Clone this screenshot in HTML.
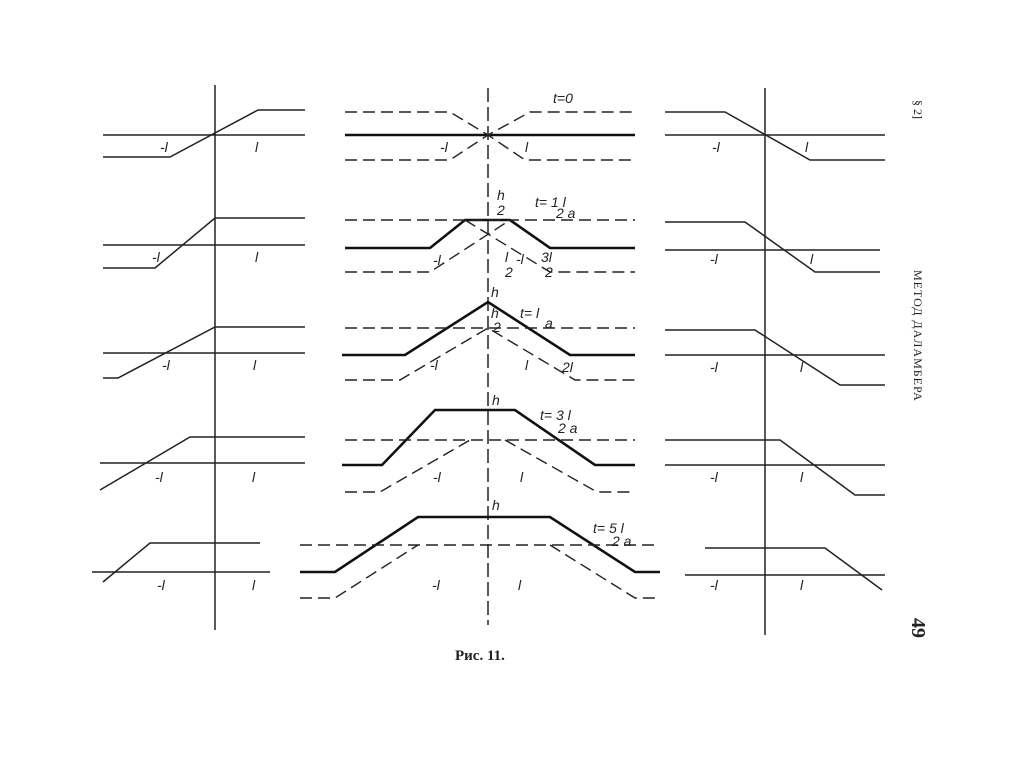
<!DOCTYPE html>
<html><head><meta charset="utf-8"><style>
html,body{margin:0;padding:0;background:#fff;}
svg{display:block}
text{font-family:"Liberation Serif",serif;fill:#222}
.i{font-style:italic;font-family:"Liberation Sans",sans-serif;font-size:14px}
</style></head><body>
<svg width="1024" height="767" viewBox="0 0 1024 767" xmlns="http://www.w3.org/2000/svg">
<rect width="1024" height="767" fill="#fff"/>
<g stroke="#222" fill="none" stroke-width="1.5">
<!-- left column -->
<line x1="215" y1="85" x2="215" y2="630"/>
<line x1="103" y1="135" x2="305" y2="135"/>
<polyline points="103,157 170,157 258,110 305,110"/>
<line x1="103" y1="245" x2="305" y2="245"/>
<polyline points="103,268 155,268 215,218 305,218"/>
<line x1="103" y1="353" x2="305" y2="353"/>
<polyline points="103,378 118,378 215,327 305,327"/>
<line x1="100" y1="463" x2="305" y2="463"/>
<polyline points="100,490 190,437 305,437"/>
<line x1="92" y1="572" x2="270" y2="572"/>
<polyline points="103,582 150,543 260,543"/>
<!-- right column -->
<line x1="765" y1="88" x2="765" y2="635"/>
<line x1="665" y1="135" x2="885" y2="135"/>
<polyline points="665,112 725,112 810,160 885,160"/>
<line x1="665" y1="250" x2="880" y2="250"/>
<polyline points="665,222 745,222 815,272 880,272"/>
<line x1="665" y1="355" x2="885" y2="355"/>
<polyline points="665,330 755,330 840,385 885,385"/>
<line x1="665" y1="465" x2="885" y2="465"/>
<polyline points="665,440 780,440 855,495 885,495"/>
<line x1="685" y1="575" x2="885" y2="575"/>
<polyline points="705,548 825,548 882,590"/>
<!-- middle axis -->
<line x1="488" y1="88" x2="488" y2="625" stroke-dasharray="14,5"/>
</g>
<!-- middle solid thick -->
<g stroke="#111" fill="none" stroke-width="2.6">
<line x1="345" y1="135" x2="635" y2="135"/>
<polyline points="345,248 430,248 465,220 510,220 550,248 635,248"/>
<polyline points="342,355 405,355 488,302 570,355 635,355"/>
<polyline points="342,465 382,465 435,410 515,410 595,465 635,465"/>
<polyline points="300,572 335,572 418,517 550,517 635,572 660,572"/>
</g>
<g stroke="#222" fill="none" stroke-width="1.4" stroke-dasharray="12,6">
<polyline points="345,112 450,112 488,135 525,160 635,160"/>
<polyline points="345,160 450,160 488,135 530,112 635,112"/>
<line x1="345" y1="220" x2="635" y2="220"/>
<polyline points="345,272 430,272 510,220"/>
<polyline points="465,220 550,272 635,272"/>
<line x1="345" y1="328" x2="635" y2="328"/>
<polyline points="345,380 400,380 488,328 575,380 635,380"/>
<line x1="345" y1="440" x2="635" y2="440"/>
<polyline points="345,492 380,492 470,440"/>
<polyline points="505,440 597,492 635,492"/>
<line x1="300" y1="545" x2="660" y2="545"/>
<polyline points="300,598 335,598 418,545"/>
<polyline points="550,545 635,598 660,598"/>
</g>
<g class="i">
<text x="160" y="152" class="i">-l</text><text x="255" y="152" class="i">l</text>
<text x="152" y="262" class="i">-l</text><text x="255" y="262" class="i">l</text>
<text x="162" y="370" class="i">-l</text><text x="253" y="370" class="i">l</text>
<text x="155" y="482" class="i">-l</text><text x="252" y="482" class="i">l</text>
<text x="157" y="590" class="i">-l</text><text x="252" y="590" class="i">l</text>
<text x="712" y="152" class="i">-l</text><text x="805" y="152" class="i">l</text>
<text x="710" y="264" class="i">-l</text><text x="810" y="264" class="i">l</text>
<text x="710" y="372" class="i">-l</text><text x="800" y="372" class="i">l</text>
<text x="710" y="482" class="i">-l</text><text x="800" y="482" class="i">l</text>
<text x="710" y="590" class="i">-l</text><text x="800" y="590" class="i">l</text>
<text x="440" y="152" class="i">-l</text><text x="525" y="152" class="i">l</text>
<text x="553" y="103" class="i">t=0</text>
<text x="497" y="200" class="i">h</text><text x="497" y="215" class="i">2</text>
<text x="535" y="207" class="i">t= 1  l</text><text x="556" y="218" class="i">2  a</text>
<text x="433" y="265" class="i">-l</text>
<text x="505" y="262" class="i">l</text><text x="505" y="277" class="i">2</text>
<text x="516" y="264" class="i">-l</text>
<text x="541" y="262" class="i">3l</text><text x="545" y="277" class="i">2</text>
<text x="491" y="297" class="i">h</text><text x="491" y="318" class="i">h</text><text x="493" y="332" class="i">2</text>
<text x="520" y="318" class="i">t= l</text><text x="545" y="328" class="i">a</text>
<text x="430" y="370" class="i">-l</text><text x="525" y="370" class="i">l</text><text x="562" y="372" class="i">2l</text>
<text x="492" y="405" class="i">h</text>
<text x="540" y="420" class="i">t= 3  l</text><text x="558" y="433" class="i">2  a</text>
<text x="433" y="482" class="i">-l</text><text x="520" y="482" class="i">l</text>
<text x="492" y="510" class="i">h</text>
<text x="593" y="533" class="i">t= 5  l</text><text x="612" y="546" class="i">2  a</text>
<text x="432" y="590" class="i">-l</text><text x="518" y="590" class="i">l</text>
</g>
<text x="455" y="660" style="font-size:15px;font-weight:bold">Рис.  11.</text>
<text transform="translate(914,100) rotate(90)" style="font-size:12px">§ 2]</text>
<text transform="translate(914,270) rotate(90)" style="font-size:12px;letter-spacing:1px">МЕТОД  ДАЛАМБЕРА</text>
<text transform="translate(912,618) rotate(90)" style="font-size:20px;font-weight:bold">49</text>
</svg>
</body></html>
